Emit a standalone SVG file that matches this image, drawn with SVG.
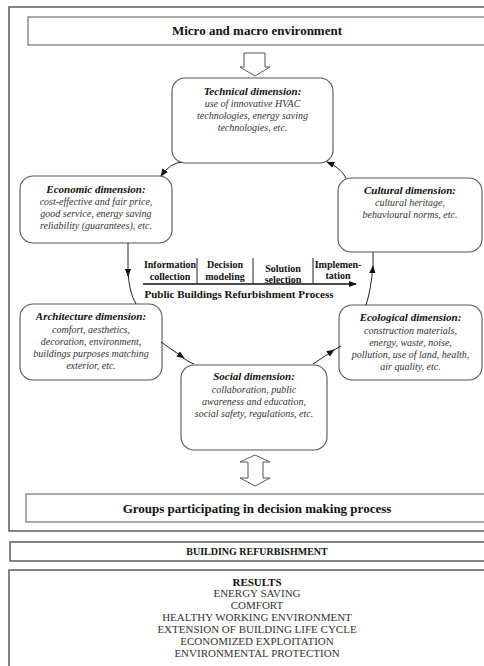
<svg xmlns="http://www.w3.org/2000/svg" width="484" height="666" viewBox="0 0 484 666">
<style>
text{font-family:'Liberation Serif','Times New Roman','DejaVu Serif',serif}
.frame{fill:none;stroke:#444;stroke-width:1.3}
.box{fill:#fff;stroke:#555;stroke-width:1}
.node{fill:#fff;stroke:#555;stroke-width:1.1}
.hd{font-weight:bold;font-size:13px;fill:#111;text-anchor:middle}
.ttl{font-weight:bold;font-style:italic;font-size:11px;fill:#111;text-anchor:middle}
.it{font-style:italic;font-size:10px;fill:#333;text-anchor:middle}
.pr{font-weight:bold;font-size:10px;fill:#111;text-anchor:middle}
.pt{font-weight:bold;font-size:11px;fill:#111;text-anchor:middle}
.res{font-size:11px;fill:#333;text-anchor:middle}
.con{fill:none;stroke:#222;stroke-width:1}
.hollow{fill:#fff;stroke:#555;stroke-width:1}
</style>
<defs>
<marker id="ah" viewBox="0 0 10 10" refX="9" refY="5" markerWidth="8" markerHeight="8" markerUnits="userSpaceOnUse" orient="auto">
<path d="M0,1 L10,5 L0,9 z" fill="#111"/>
</marker>
</defs>
<rect width="484" height="666" fill="#fff"/>
<rect class="frame" x="9" y="7" width="500" height="524"/>

<g id="env">
<rect class="box" x="28" y="17" width="480" height="28"/>
<text class="hd" x="257" y="35">Micro and macro environment</text>
</g>

<g id="technical">
<rect class="node" x="172" y="78" width="161" height="85" rx="13"/>
<text class="ttl" x="252.5" y="95">Technical dimension:</text>
<text class="it" x="252.5" y="107">use of innovative HVAC</text>
<text class="it" x="252.5" y="119">technologies, energy saving</text>
<text class="it" x="252.5" y="131">technologies, etc.</text>
</g>

<g id="economic">
<rect class="node" x="20" y="176" width="152" height="67" rx="13"/>
<text class="ttl" x="96" y="193">Economic dimension:</text>
<text class="it" x="96" y="205">cost-effective and fair price,</text>
<text class="it" x="96" y="217">good service, energy saving</text>
<text class="it" x="96" y="229">reliability (guarantees), etc.</text>
</g>

<g id="cultural">
<rect class="node" x="338" y="178" width="144" height="74" rx="13"/>
<text class="ttl" x="410" y="194">Cultural dimension:</text>
<text class="it" x="410" y="206">cultural heritage,</text>
<text class="it" x="410" y="218">behavioural norms, etc.</text>
</g>

<g id="process">
<text class="pr" x="170" y="268">Information</text>
<text class="pr" x="170" y="280">collection</text>
<text class="pr" x="225" y="268">Decision</text>
<text class="pr" x="225" y="280">modeling</text>
<text class="pr" x="283" y="272">Solution</text>
<text class="pr" x="283" y="283">selection</text>
<text class="pr" x="338" y="268">Implemen-</text>
<text class="pr" x="338" y="279">tation</text>
<line x1="197" y1="258" x2="197" y2="284" stroke="#222" stroke-width="1"/>
<line x1="253" y1="258" x2="253" y2="284" stroke="#222" stroke-width="1"/>
<line x1="313" y1="258" x2="313" y2="284" stroke="#222" stroke-width="1"/>
<line x1="143" y1="284" x2="356" y2="284" stroke="#111" stroke-width="1.5" marker-end="url(#ah)"/>
<text class="pt" x="239" y="298">Public Buildings Refurbishment Process</text>
</g>

<g id="architecture">
<rect class="node" x="20" y="304" width="142" height="76" rx="13"/>
<text class="ttl" x="91" y="320">Architecture dimension:</text>
<text class="it" x="91" y="333">comfort, aesthetics,</text>
<text class="it" x="91" y="345">decoration, environment,</text>
<text class="it" x="91" y="357">buildings purposes matching</text>
<text class="it" x="91" y="369">exterior, etc.</text>
</g>

<g id="ecological">
<rect class="node" x="339" y="305" width="143" height="75" rx="13"/>
<text class="ttl" x="410.5" y="321">Ecological dimension:</text>
<text class="it" x="410.5" y="334">construction materials,</text>
<text class="it" x="410.5" y="346">energy, waste, noise,</text>
<text class="it" x="410.5" y="358">pollution, use of land, health,</text>
<text class="it" x="410.5" y="370">air quality, etc.</text>
</g>

<g id="social">
<rect class="node" x="181" y="365" width="146" height="85" rx="13"/>
<text class="ttl" x="254" y="380">Social dimension:</text>
<text class="it" x="254" y="393">collaboration, public</text>
<text class="it" x="254" y="405">awareness and education,</text>
<text class="it" x="254" y="417">social safety, regulations, etc.</text>
</g>

<g id="connectors">
<polygon class="hollow" points="244,53 265,53 265,67 270,67 255,76 240,67 244,67"/>
<path class="con" d="M182,162 Q170,163 161,176" marker-end="url(#ah)"/>
<path class="con" d="M346,178 Q341,168 327,162" marker-end="url(#ah)"/>
<path class="con" d="M128,243 Q128,260 128,276" marker-end="url(#ah)"/>
<path class="con" d="M128,272 Q129,292 136,304"/>
<path class="con" d="M366,305 Q371,290 373,266" marker-end="url(#ah)"/>
<path class="con" d="M373,270 L373,252"/>
<path class="con" d="M161,342 L184,358" marker-end="url(#ah)"/>
<path class="con" d="M182,357 Q188,362 194,364"/>
<path class="con" d="M313,364 L334,350" marker-end="url(#ah)"/>
<path class="con" d="M332,351 L341,346"/>
<polygon class="hollow" points="255,455 270,462 263,462 263,478 270,478 255,486 240,478 248,478 248,462 240,462"/>
</g>

<g id="groups">
<rect class="box" x="26" y="494" width="482" height="28"/>
<text class="hd" x="257" y="513">Groups participating in decision making process</text>
</g>

<g id="refurbishment">
<rect class="frame" x="10" y="542" width="500" height="19"/>
<text class="pr" x="257" y="555">BUILDING REFURBISHMENT</text>
</g>

<g id="results">
<rect class="frame" x="9" y="570" width="500" height="110"/>
<text class="pr" x="257" y="586" style="font-size:11px">RESULTS</text>
<text class="res" x="257" y="597">ENERGY SAVING</text>
<text class="res" x="257" y="609">COMFORT</text>
<text class="res" x="257" y="621">HEALTHY WORKING ENVIRONMENT</text>
<text class="res" x="257" y="633">EXTENSION OF BUILDING LIFE CYCLE</text>
<text class="res" x="257" y="645">ECONOMIZED EXPLOITATION</text>
<text class="res" x="257" y="657">ENVIRONMENTAL PROTECTION</text>
</g>
</svg>
